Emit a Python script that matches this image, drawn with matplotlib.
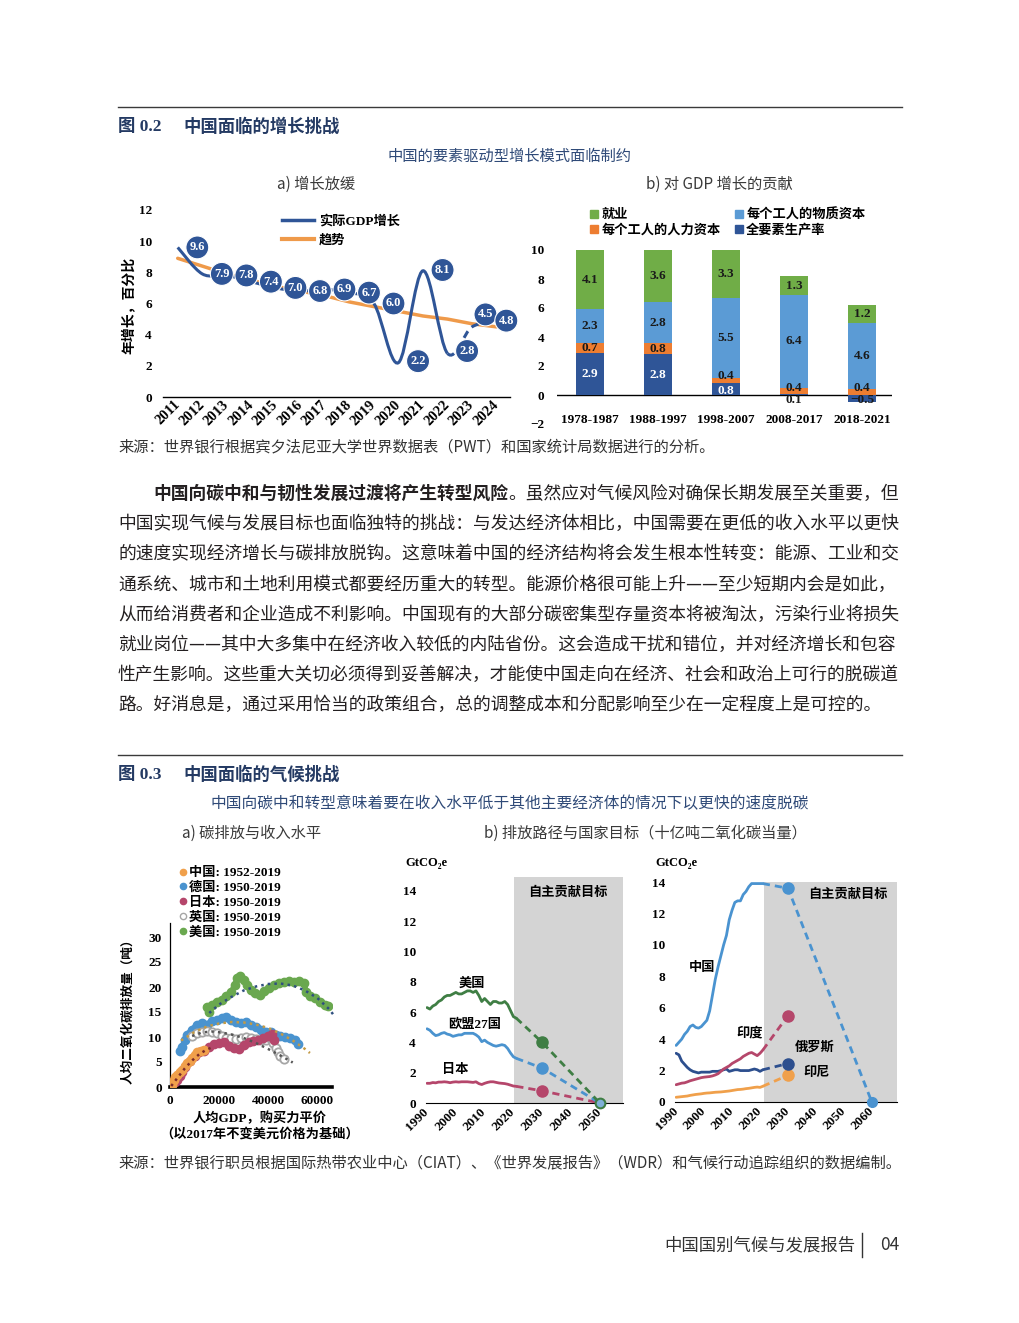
import numpy as np
import matplotlib
matplotlib.use("Agg")
import matplotlib.pyplot as plt
from matplotlib.path import Path
from matplotlib.patches import PathPatch
from matplotlib.lines import Line2D

SERIF = ['Liberation Serif', 'Noto Sans CJK SC', 'DejaVu Sans']
SANS = ['Noto Sans CJK SC', 'DejaVu Sans']
plt.rcParams['font.family'] = SERIF
plt.rcParams['font.weight'] = 'bold'
plt.rcParams['axes.unicode_minus'] = True

# ---- fig 0.2 a) GDP growth
years_a = [str(y) for y in range(2011, 2025)]
gdp_growth = [9.6, 7.9, 7.8, 7.4, 7.0, 6.8, 6.9, 6.7, 6.0, 2.2, 8.1, 2.8, 4.5, 4.8]
gdp_trend = [8.9, 8.4, 7.9, 7.5, 7.1, 6.8, 6.5, 6.1, 5.8, 5.5, 5.2, 5.0, 4.7, 4.5]

# ---- fig 0.2 b) contributions to growth
periods = ['1978-1987', '1988-1997', '1998-2007', '2008-2017', '2018-2021']
tfp = [2.9, 2.8, 0.8, 0.1, -0.5]
human_cap = [0.7, 0.8, 0.4, 0.4, 0.4]
phys_cap = [2.3, 2.8, 5.5, 6.4, 4.6]
employment = [4.1, 3.6, 3.3, 1.3, 1.2]

# ---- fig 0.3 a) co2 per capita vs gdp per capita (read off the picture)
cn_gdp = [700, 1000, 1500, 2000, 3000, 4000, 5000, 6000, 7000, 8000, 9000, 10000, 11000, 12500, 14000]
cn_co2 = [0.5, 0.8, 1.5, 2.0, 2.5, 3.0, 3.5, 4.2, 4.8, 5.3, 5.8, 6.5, 7.0, 7.3, 7.5]
de_gdp = [4000, 5000, 6000, 7000, 9000, 11000, 13000, 15000, 17000, 19000, 21000, 23000, 25000, 27000,
          29000, 31000, 33000, 35000, 37000, 39000, 41000, 43000, 45000, 47000, 49000, 51000, 52000]
de_co2 = [7.2, 8.0, 9.5, 10.5, 11.5, 12.5, 12.8, 12.5, 13.2, 13.5, 13.8, 14.0, 13.5, 13.0,
          12.8, 13.0, 12.5, 12.0, 11.5, 11.0, 11.0, 10.5, 10.3, 10.0, 9.8, 9.5, 8.6]
jp_gdp = [2000, 3000, 4000, 5000, 6000, 8000, 10000, 12000, 14000, 16000, 18000, 20000, 22000, 24000,
          26000, 28000, 30000, 32000, 34000, 36000, 38000, 40000, 41500, 42500]
jp_co2 = [1.0, 1.5, 2.2, 3.0, 4.0, 5.3, 6.3, 7.0, 7.3, 8.0, 8.6, 8.8, 9.0, 8.3,
          7.8, 7.6, 8.5, 9.0, 9.3, 9.5, 9.8, 10.3, 10.6, 9.5]
uk_gdp = [9000, 11000, 13000, 15000, 17000, 19000, 21000, 23000, 25000, 27000, 29000, 31000, 33000,
          35000, 37000, 39000, 41000, 42000, 43000, 44000, 45000, 46500]
uk_co2 = [10.3, 10.8, 11.0, 11.3, 11.0, 10.8, 10.3, 9.8, 9.8, 9.6, 9.9, 10.0, 9.8,
          9.6, 9.4, 9.5, 9.6, 8.8, 7.8, 7.0, 6.3, 5.6]
us_gdp = [15000, 16000, 17000, 19000, 21000, 23000, 25000, 26500, 27500, 28500, 30000, 31500, 33000,
          34500, 36500, 38500, 40500, 42500, 44500, 46500, 48500, 50500, 52500, 54500, 55500, 57000,
          59000, 61000, 63000, 64500]
us_co2 = [16.0, 15.0, 16.5, 17.0, 17.5, 18.3, 19.0, 20.5, 21.8, 22.3, 21.5, 20.5, 19.5,
          18.8, 18.5, 19.2, 19.8, 20.5, 20.8, 21.0, 21.2, 21.0, 21.3, 20.8, 19.0, 18.3,
          17.8, 17.0, 16.5, 16.2]
# fitted trend lines
cn_fit_gdp = [500, 3000, 6000, 9000, 12000, 15000, 17500]
cn_fit_co2 = [0.2, 1.8, 3.7, 5.3, 6.6, 7.5, 8.0]
de_fit_gdp = [4500, 10000, 15000, 20000, 25000, 30000, 35000, 40000, 45000, 50000, 55000, 57000]
de_fit_co2 = [9.3, 11.0, 12.1, 12.7, 13.0, 12.9, 12.5, 11.8, 10.7, 9.3, 7.6, 6.8]
uk_fit_gdp = [9000, 13000, 17000, 21000, 25000, 30000, 35000, 40000, 45000, 50000]
uk_fit_co2 = [10.2, 10.9, 11.1, 10.9, 10.5, 9.8, 8.8, 7.6, 6.3, 4.9]
us_fit_gdp = [16000, 20000, 25000, 30000, 35000, 40000, 45000, 50000, 55000, 60000, 65000, 66500]
us_fit_co2 = [14.8, 16.5, 18.0, 19.3, 20.1, 20.6, 20.7, 20.3, 19.3, 17.8, 15.5, 14.5]

# ---- fig 0.3 b) emissions pathways, GtCO2e
hist_years = list(range(1990, 2022))
us_hist = [6.3, 6.2, 6.4, 6.5, 6.7, 6.8, 7.0, 7.1, 7.1, 7.2, 7.3, 7.2, 7.2, 7.3, 7.4, 7.4,
           7.3, 7.4, 7.1, 6.7, 6.9, 6.7, 6.5, 6.7, 6.7, 6.6, 6.6, 6.7, 6.5, 6.1, 5.7, 5.6]
eu_hist = [4.9, 4.8, 4.6, 4.45, 4.5, 4.6, 4.65, 4.55, 4.5, 4.4, 4.45, 4.5, 4.5, 4.6, 4.6, 4.6,
           4.6, 4.5, 4.35, 4.05, 4.15, 4.0, 3.9, 3.8, 3.75, 3.8, 3.85, 3.8, 3.6, 3.3, 3.05, 2.95]
jp_hist = [1.3, 1.3, 1.35, 1.33, 1.38, 1.38, 1.4, 1.38, 1.34, 1.38, 1.4, 1.38, 1.4, 1.4, 1.4, 1.38,
           1.36, 1.4, 1.28, 1.22, 1.3, 1.36, 1.4, 1.4, 1.36, 1.32, 1.3, 1.28, 1.24, 1.18, 1.12, 1.1]
cn_hist = [3.6, 3.8, 4.0, 4.3, 4.5, 4.8, 4.9, 4.75, 4.7, 4.8, 5.0, 5.2, 5.8, 6.8, 7.8, 8.6,
           9.3, 10.0, 10.6, 11.6, 12.2, 12.7, 12.8, 12.8, 13.2, 13.4, 13.7, 13.9, 13.9, 13.9, 13.9, 13.9]
in_hist = [1.1, 1.15, 1.2, 1.22, 1.28, 1.35, 1.4, 1.45, 1.5, 1.55, 1.58, 1.6, 1.62, 1.66, 1.72, 1.8,
           1.95, 2.1, 2.2, 2.3, 2.45, 2.55, 2.65, 2.75, 2.9, 3.0, 3.1, 3.15, 3.05, 2.95, 3.1, 3.3]
ru_hist = [3.1, 3.0, 2.6, 2.4, 2.2, 2.05, 1.95, 1.9, 1.85, 1.9, 1.9, 1.9, 1.9, 1.95, 1.95, 1.95,
           2.0, 2.05, 2.1, 1.95, 2.0, 2.05, 2.05, 2.0, 2.0, 2.0, 2.0, 2.05, 2.1, 2.05, 1.95, 2.05]
id_hist = [0.3, 0.32, 0.34, 0.36, 0.38, 0.42, 0.45, 0.48, 0.5, 0.52, 0.55, 0.57, 0.58, 0.6, 0.62, 0.63,
           0.64, 0.66, 0.68, 0.7, 0.73, 0.76, 0.79, 0.8, 0.82, 0.85, 0.87, 0.9, 0.93, 0.95, 0.93, 1.0]
# NDC targets: (year, value)
us_target = [(2030, 4.0), (2050, 0.0)]
eu_target = [(2030, 2.3), (2050, 0.0)]
jp_target = [(2030, 0.8), (2050, 0.0)]
cn_target = [(2030, 13.6), (2060, 0.0)]
in_target = [(2030, 5.5)]
ru_target = [(2030, 2.45)]
id_target = [(2030, 1.7)]

paragraph_bold = "中国向碳中和与韧性发展过渡将产生转型风险"
paragraph_rest = "。虽然应对气候风险对确保长期发展至关重要，但"
paragraph_lines = [
    "中国实现气候与发展目标也面临独特的挑战：与发达经济体相比，中国需要在更低的收入水平以更快",
    "的速度实现经济增长与碳排放脱钩。这意味着中国的经济结构将会发生根本性转变：能源、工业和交",
    "通系统、城市和土地利用模式都要经历重大的转型。能源价格很可能上升——至少短期内会是如此，",
    "从而给消费者和企业造成不利影响。中国现有的大部分碳密集型存量资本将被淘汰，污染行业将损失",
    "就业岗位——其中大多集中在经济收入较低的内陆省份。这会造成干扰和错位，并对经济增长和包容",
    "性产生影响。这些重大关切必须得到妥善解决，才能使中国走向在经济、社会和政治上可行的脱碳道",
    "路。好消息是，通过采用恰当的政策组合，总的调整成本和分配影响至少在一定程度上是可控的。",
]

W, H = 1020, 1323
fig = plt.figure(figsize=(W / 100, H / 100), dpi=100)
fig.patch.set_facecolor('white')


def ftext(x, y, s, **kw):
    return fig.text(x / W, 1 - y / H, s, **kw)


def add_ax(l, t, r, b):
    return fig.add_axes([l / W, 1 - b / H, (r - l) / W, (b - t) / H])


def hline(x0, x1, y, **kw):
    fig.add_artist(Line2D([x0 / W, x1 / W], [1 - y / H, 1 - y / H], **kw))


def smooth_path(xs, ys, i0, i1):
    pts = np.column_stack([xs, ys]).astype(float)
    n = len(pts)
    verts = [pts[i0]]
    codes = [Path.MOVETO]
    for i in range(i0, i1):
        p0 = pts[max(i - 1, 0)]
        p1 = pts[i]
        p2 = pts[i + 1]
        p3 = pts[min(i + 2, n - 1)]
        verts += [p1 + (p2 - p0) / 6, p2 - (p3 - p1) / 6, p2]
        codes += [Path.CURVE4] * 3
    return Path(verts, codes)


TITLE_C = '#243a63'
SUB_C = '#2f4a78'
TXT_C = '#231f20'
tick_font = dict(family=SERIF, weight='bold', size=9.5)

# ================= Figure 0.2 header
hline(118, 902, 107, color='#3a3a3a', lw=1)
ftext(118, 127, "图 0.2", fontsize=12.5, color=TITLE_C, va='center', family=SERIF, weight='bold')
ftext(183, 127, "中国面临的增长挑战", fontsize=12.5, color=TITLE_C, va='center', family=SERIF, weight='bold')
ftext(510, 156, "中国的要素驱动型增长模式面临制约", fontsize=11, color=SUB_C, ha='center', va='center',
      family=SANS, weight='normal')
ftext(316, 184, "a) 增长放缓", fontsize=11, color='#3a3a3a', ha='center', va='center', family=SANS, weight='normal')
ftext(719, 184, "b) 对 GDP 增长的贡献", fontsize=11, color='#3a3a3a', ha='center', va='center', family=SANS,
      weight='normal')

# ---- chart a
ax = add_ax(163, 210, 510, 397)
xa = np.arange(len(gdp_growth))
ax.set_xlim(-0.6, 13.55)
ax.set_ylim(0, 12)
for s in ['left', 'top', 'right']:
    ax.spines[s].set_visible(False)
ax.spines['bottom'].set_color('black')
ax.spines['bottom'].set_linewidth(1)
ax.set_yticks(range(0, 13, 2))
ax.set_xticks(xa)
ax.set_xticklabels(years_a)
ax.tick_params(length=0)
ax.tick_params(axis='y', pad=8)
ax.tick_params(axis='x', pad=4)
for lab in ax.get_yticklabels():
    lab.set_fontproperties(tick_font)
for lab in ax.get_xticklabels():
    lab.set_fontproperties(dict(tick_font, size=10.5))
    lab.set_rotation(45)
    lab.set_ha('right')
    lab.set_va('center')
    lab.set_rotation_mode('anchor')
ax.plot(xa, gdp_trend, color='#ef9a4a', lw=2.5, solid_capstyle='round', zorder=2)
BLUE_A = '#2f5597'
ax.add_patch(PathPatch(smooth_path(xa, gdp_growth, 0, 11), fc='none', ec=BLUE_A, lw=2.2, zorder=3))
ax.add_patch(PathPatch(smooth_path(xa, gdp_growth, 11, 13), fc='none', ec=BLUE_A, lw=2.2, ls=(0, (2.5, 1.8)),
                       zorder=3))
lab_dx = [0.8] * 12 + [0.55, 0.4]
lab_dy = [0.0] * 9 + [0.1, 0.05, 0.15, 0.8, 0.1]
for i, v in enumerate(gdp_growth):
    ax.text(i + lab_dx[i], v + lab_dy[i], f"{v:.1f}", color='white', fontsize=9, ha='center', va='center',
            family=SERIF, weight='bold', zorder=5,
            bbox=dict(boxstyle='circle,pad=0.3', fc=BLUE_A, ec='white', lw=0.8))
h_a = [Line2D([], [], color=BLUE_A, lw=2.5), Line2D([], [], color='#ef9a4a', lw=3)]
ax.legend(h_a, ["实际GDP增长", "趋势"], loc='upper left', bbox_to_anchor=(282 / W, 1 - 215 / H),
          bbox_transform=fig.transFigure, frameon=False, handlelength=2.4, handletextpad=0.4,
          labelspacing=0.5, borderpad=0, borderaxespad=0, prop=tick_font)
ftext(130, 305, "年增长，百分比", rotation=90, fontsize=10, ha='center', va='center', color='black',
      family=SERIF, weight='bold')

# ---- chart b
axb = add_ax(557, 250, 892, 424)
xb = np.arange(len(periods))
axb.set_xlim(-0.485, 4.44)
axb.set_ylim(-2, 10)
for s in axb.spines.values():
    s.set_visible(False)
axb.axhline(0, color='black', lw=1, zorder=1)
series_b = [(tfp, '#2f5597'), (human_cap, '#ed7d31'), (phys_cap, '#5b9bd5'), (employment, '#70ad47')]
pos_b = np.zeros(len(periods))
neg_b = np.zeros(len(periods))
label_y = []
for vals, col in series_b:
    vals = np.array(vals)
    bottom = np.where(vals >= 0, pos_b, neg_b)
    axb.bar(xb, vals, width=0.4, bottom=bottom, color=col, zorder=2)
    label_y.append(bottom + vals / 2)
    pos_b = np.where(vals >= 0, pos_b + vals, pos_b)
    neg_b = np.where(vals < 0, neg_b + vals, neg_b)
for k, (vals, col) in enumerate(series_b):
    for i, v in enumerate(vals):
        y = label_y[k][i]
        c = '#1a1a1a'
        if k == 0:
            if abs(v) < 0.3 or v < 0:
                y = -0.35
            else:
                c = 'white'
            if i == 2:
                y = 0.3
        if k == 1 and i == 2:
            y = 1.3
        if k == 1 and i >= 3:
            y = 0.5
        txt = f"{v:.1f}".replace('-', '\u2212')
        axb.text(i, y, txt, ha='center', va='center', color=c, zorder=4, fontproperties=tick_font)
axb.set_yticks(range(-2, 11, 2))
axb.set_xticks(xb)
axb.set_xticklabels(periods)
axb.tick_params(length=0)
axb.tick_params(axis='y', pad=9)
axb.tick_params(axis='x', pad=-7.5)
for lab in axb.get_yticklabels() + axb.get_xticklabels():
    lab.set_fontproperties(tick_font)
h_b = [Line2D([], [], ls='none', marker='s', ms=6, color='#70ad47'),
       Line2D([], [], ls='none', marker='s', ms=6, color='#ed7d31'),
       Line2D([], [], ls='none', marker='s', ms=6, color='#5b9bd5'),
       Line2D([], [], ls='none', marker='s', ms=6, color='#2f5597')]
axb.legend(h_b, ["就业", "每个工人的人力资本", "每个工人的物质资本", "全要素生产率"], ncol=2,
           loc='upper left', bbox_to_anchor=(590 / W, 1 - 208 / H), bbox_transform=fig.transFigure,
           frameon=False, handlelength=0.6, handletextpad=0.25, labelspacing=0.2, columnspacing=1.1,
           borderpad=0, borderaxespad=0, prop=tick_font)

src_kw = dict(fontsize=11, color='#333333', va='center', family=SANS, weight='normal')
ftext(118, 447, "来源：世界银行根据宾夕法尼亚大学世界数据表（PWT）和国家统计局数据进行的分析。", **src_kw)

# ================= paragraph
par_kw = dict(fontsize=12.8, color=TXT_C, va='center', family=SANS)
renderer = fig.canvas.get_renderer()
t_bold = ftext(153, 494, paragraph_bold, weight='bold', **par_kw)
bb = t_bold.get_window_extent(renderer)
ftext(bb.x1, 494, paragraph_rest, weight='normal', **par_kw)
for i, line in enumerate(paragraph_lines):
    ftext(118, 494 + 30.15 * (i + 1), line, weight='normal', **par_kw)

# ================= Figure 0.3 header
hline(118, 902, 755, color='#3a3a3a', lw=1)
ftext(118, 775, "图 0.3", fontsize=12.5, color=TITLE_C, va='center', family=SERIF, weight='bold')
ftext(183, 775, "中国面临的气候挑战", fontsize=12.5, color=TITLE_C, va='center', family=SERIF, weight='bold')
ftext(510, 804, "中国向碳中和转型意味着要在收入水平低于其他主要经济体的情况下以更快的速度脱碳", fontsize=11.3,
      color=SUB_C, ha='center', va='center', family=SANS, weight='normal')
ftext(182, 833, "a) 碳排放与收入水平", fontsize=11, color='#3a3a3a', va='center', family=SANS, weight='normal')
ftext(484, 833, "b) 排放路径与国家目标（十亿吨二氧化碳当量）", fontsize=11, color='#3a3a3a', va='center',
      family=SANS, weight='normal')

# ---- chart c scatter
axc = add_ax(170, 923, 332, 1087)
axc.set_xlim(0, 66000)
axc.set_ylim(0, 32.8)
for s in ['top', 'right']:
    axc.spines[s].set_visible(False)
axc.spines['left'].set_linewidth(0.9)
axc.spines['bottom'].set_linewidth(2.6)
axc.set_xticks([0, 20000, 40000, 60000])
axc.set_yticks(range(0, 31, 5))
axc.tick_params(length=0)
axc.tick_params(axis='y', pad=6)
axc.tick_params(axis='x', pad=6)
for lab in axc.get_yticklabels() + axc.get_xticklabels():
    lab.set_fontproperties(tick_font)
C_CN, C_DE, C_JP, C_UK, C_US = '#f0a04b', '#4a93cf', '#b5466b', '#a6a6a6', '#6aa84f'
MS = 6
axc.plot(us_gdp, us_co2, color=C_US, lw=4, marker='o', ms=MS, zorder=2)
axc.plot(de_gdp, de_co2, color=C_DE, lw=4, marker='o', ms=MS, zorder=2)
axc.plot(uk_gdp, uk_co2, color=C_UK, lw=1.5, marker='o', ms=MS, mfc='white', mec=C_UK, mew=1.3, zorder=3)
axc.plot(jp_gdp, jp_co2, color=C_JP, lw=4, marker='o', ms=MS, zorder=3)
axc.plot(cn_gdp, cn_co2, color=C_CN, lw=4, marker='o', ms=MS, zorder=3)
axc.plot(us_fit_gdp, us_fit_co2, color='#2f4f7f', lw=1.8, ls=':', zorder=4, clip_on=False)
axc.plot(de_fit_gdp, de_fit_co2, color='#c39a45', lw=1.8, ls=':', zorder=4)
axc.plot(uk_fit_gdp, uk_fit_co2, color='#555555', lw=1.8, ls=':', zorder=4)
axc.plot(cn_fit_gdp, cn_fit_co2, color='#7a2b2b', lw=1.8, ls=':', zorder=4)
h_c = [Line2D([], [], ls='none', marker='o', ms=4.5, color=C_CN),
       Line2D([], [], ls='none', marker='o', ms=4.5, color=C_DE),
       Line2D([], [], ls='none', marker='o', ms=4.5, color=C_JP),
       Line2D([], [], ls='none', marker='o', ms=4.5, mfc='white', mec=C_UK),
       Line2D([], [], ls='none', marker='o', ms=4.5, color=C_US)]
axc.legend(h_c, ["中国: 1952-2019", "德国: 1950-2019", "日本: 1950-2019", "英国: 1950-2019", "美国: 1950-2019"],
           loc='upper left', bbox_to_anchor=(180 / W, 1 - 867 / H), bbox_transform=fig.transFigure,
           frameon=False, handlelength=0.5, handletextpad=0.15, labelspacing=0.2, borderpad=0,
           borderaxespad=0, prop=tick_font)
ftext(260, 1118, "人均GDP，购买力平价", fontsize=9.5, ha='center', va='center', family=SERIF, weight='bold')
ftext(260, 1134, "（以2017年不变美元价格为基础）", fontsize=9.5, ha='center', va='center', family=SERIF,
      weight='bold')
ftext(128, 1008, "人均二氧化碳排放量（吨）", rotation=90, fontsize=9.1, ha='center', va='center',
      family=SERIF, weight='bold')

# ---- chart d and e pathways
GRAY_BAND = '#d4d4d4'
DASH = (0, (2.6, 1.8))


def pathway_axes(l, t, r, b, xlim, ylim, band_x0, xticks):
    a = add_ax(l, t, r, b)
    a.set_xlim(*xlim)
    a.set_ylim(*ylim)
    for s in ['top', 'right', 'left']:
        a.spines[s].set_visible(False)
    a.spines['bottom'].set_linewidth(0.8)
    a.axvspan(band_x0, xlim[1], color=GRAY_BAND, lw=0, zorder=0)
    a.set_yticks(range(0, 15, 2))
    a.set_xticks(xticks)
    a.tick_params(length=0)
    a.tick_params(axis='y', pad=7)
    a.tick_params(axis='x', pad=5)
    for lab in a.get_yticklabels() + a.get_xticklabels():
        lab.set_fontproperties(tick_font)
    for lab in a.get_xticklabels():
        lab.set_rotation(45)
        lab.set_ha('right')
        lab.set_va('center')
        lab.set_rotation_mode('anchor')
    return a


def draw_path(a, hist, target, col, end_marker=None):
    a.plot(hist_years, hist, color=col, lw=2.0, zorder=3, solid_capstyle='round')
    tx = [hist_years[-1]] + [t[0] for t in target]
    ty = [hist[-1]] + [t[1] for t in target]
    a.plot(tx, ty, color=col, lw=2.0, ls=DASH, zorder=3)
    a.plot([target[0][0]], [target[0][1]], 'o', color=col, ms=8, zorder=4, clip_on=False)
    if end_marker == 'filled':
        a.plot([target[-1][0]], [target[-1][1]], 'o', color=col, ms=7, zorder=5, clip_on=False)
    elif end_marker == 'hollow':
        a.plot([target[-1][0]], [target[-1][1]], 'o', mfc='#7fb0d8', mec=col, mew=1.5, ms=7, zorder=5,
               clip_on=False)


lab_kw = dict(fontsize=9.5, ha='center', va='center', family=SERIF, weight='bold', color='black', zorder=6)

axd = pathway_axes(425.6, 877, 622.8, 1103, (1989.5, 2058), (0, 14.92), 2020.2, range(1990, 2051, 10))
draw_path(axd, jp_hist, jp_target, '#b5466b')
draw_path(axd, eu_hist, eu_target, '#4a93cf')
draw_path(axd, us_hist, us_target, '#3f7e44', end_marker='hollow')
axd.text(2005.6, 7.9, "美国", **lab_kw)
axd.text(2006.6, 5.15, "欧盟27国", **lab_kw)
axd.text(1999.7, 2.2, "日本", **lab_kw)
axd.text(2038.9, 13.9, "自主贡献目标", **lab_kw)
ftext(405, 863, "GtCO\u2082e", fontsize=9, va='center', family=['Liberation Serif', 'DejaVu Serif'], weight='bold')

axe = pathway_axes(675, 882, 897, 1102, (1989.6, 2069), (0, 14), 2021.5, range(1990, 2061, 10))
draw_path(axe, id_hist, id_target, '#f0a04b')
draw_path(axe, ru_hist, ru_target, '#2d4f8e')
draw_path(axe, in_hist, in_target, '#b5476b')
draw_path(axe, cn_hist, cn_target, '#4a93d0', end_marker='filled')
axe.text(1999.3, 8.5, "中国", **lab_kw)
axe.text(2016.4, 4.4, "印度", **lab_kw)
axe.text(2039.6, 3.5, "俄罗斯", **lab_kw)
axe.text(2040.4, 1.85, "印尼", **lab_kw)
axe.text(2051.4, 13.2, "自主贡献目标", **lab_kw)
ftext(655, 863, "GtCO\u2082e", fontsize=9, va='center', family=['Liberation Serif', 'DejaVu Serif'], weight='bold')

ftext(118, 1163, "来源：世界银行职员根据国际热带农业中心（CIAT）、《世界发展报告》（WDR）和气候行动追踪组织的数据编制。",
      **src_kw)

# ================= footer
ftext(855, 1245, "中国国别气候与发展报告", fontsize=12.5, ha='right', va='center', color='#333333',
      family=SANS, weight='light')
fig.add_artist(Line2D([862 / W, 862 / W], [1 - 1233 / H, 1 - 1257 / H], color='#333333', lw=1))
ftext(880, 1245, "04", fontsize=12.5, va='center', color='#333333', family=SANS, weight='light')

fig.savefig("out.png", dpi=100, facecolor='white')
